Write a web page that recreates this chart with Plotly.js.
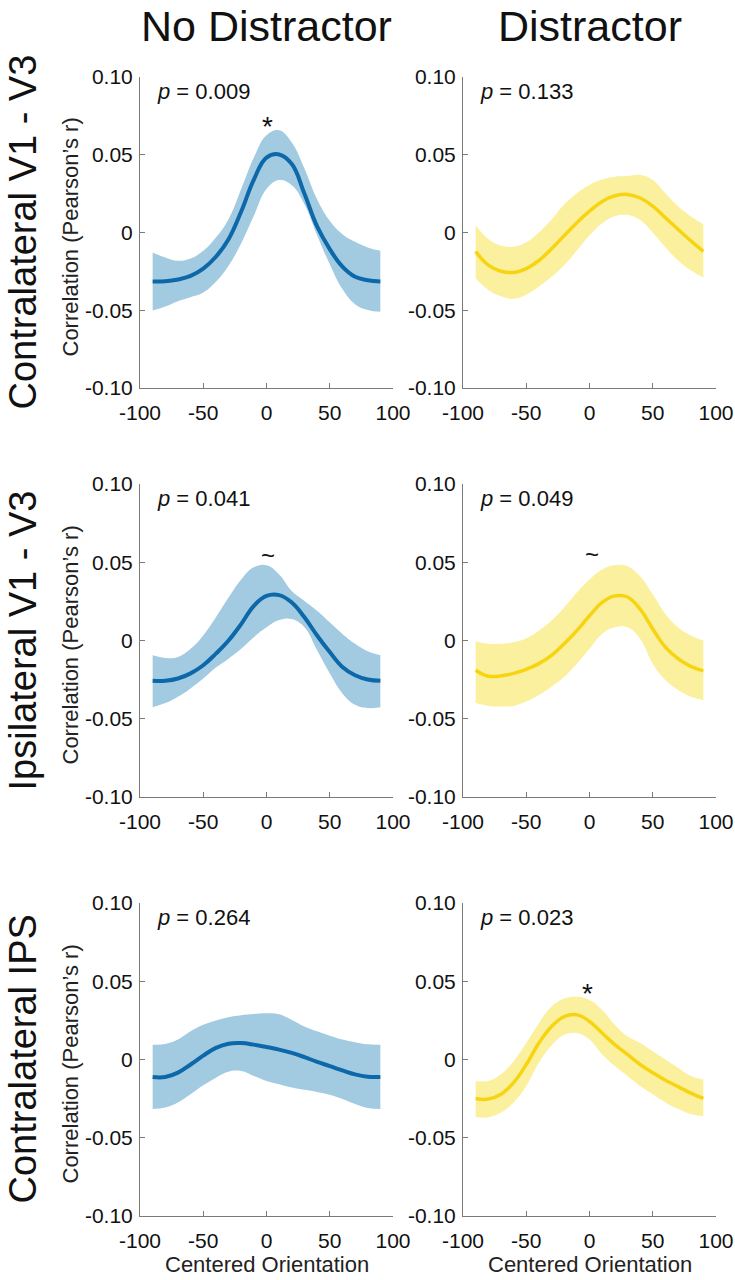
<!DOCTYPE html>
<html>
<head>
<meta charset="utf-8">
<script src="https://cdn.plot.ly/plotly-3.0.1.min.js"></script>
<style>html,body{margin:0;padding:0;background:#fff;}#chart{width:735px;height:1280px;}</style>
</head>
<body>
<div id="chart"></div>
<script>
// ---------- data ----------
const orientation = [-90,-80,-70,-60,-50,-40,-30,-20,-10,0,10,20,30,40,50,60,70,80,90];

const xTickVals = [-100,-50,0,50,100];
const xTickText = ['-100','-50','0','50','100'];
const yTickVals = [-0.1,-0.05,0,0.05,0.1];
const yTickText = ['-0.10','-0.05','0','0.05','0.10'];

const columnTitles = ['No Distractor','Distractor'];
const rowTitles = ['Contralateral V1 - V3','Ipsilateral V1 - V3','Contralateral IPS'];
const yAxisTitle = "Correlation (Pearson’s r)";
const xAxisTitle = 'Centered Orientation';

// Row 1: Contralateral V1 - V3
const contraV1V3_noDist_mean  = [-0.0315,-0.0313,-0.0302,-0.0279,-0.0232,-0.0156,-0.0043,0.0135,0.034,0.0482,0.0502,0.044,0.0249,0.0039,-0.0107,-0.022,-0.0285,-0.0307,-0.0315];
const contraV1V3_noDist_upper = [-0.0129,-0.0161,-0.0182,-0.0167,-0.0118,-0.0032,0.0086,0.0279,0.0482,0.0626,0.0658,0.0579,0.0412,0.0214,0.0075,-0.0011,-0.006,-0.0096,-0.0118];
const contraV1V3_noDist_lower = [-0.0502,-0.0476,-0.0442,-0.0416,-0.0386,-0.0317,-0.0214,-0.0069,0.0107,0.0279,0.0337,0.0304,0.0182,-0.0017,-0.0204,-0.0364,-0.0461,-0.0499,-0.051];

const contraV1V3_dist_mean  = [-0.0122,-0.021,-0.0249,-0.0257,-0.0232,-0.018,-0.0105,-0.002,0.0063,0.0137,0.020,0.0236,0.0245,0.0222,0.0169,0.0095,0.002,-0.0053,-0.0122];
const contraV1V3_dist_upper = [0.0046,-0.0042,-0.0084,-0.0091,-0.0063,0.0,0.0084,0.018,0.0253,0.0306,0.0342,0.0359,0.0363,0.037,0.0338,0.0253,0.0169,0.0105,0.0053];
const contraV1V3_dist_lower = [-0.0295,-0.037,-0.041,-0.0426,-0.040,-0.0348,-0.0285,-0.021,-0.0116,-0.002,0.0059,0.0105,0.0112,0.008,0.0,-0.0095,-0.018,-0.0243,-0.029];

// Row 2: Ipsilateral V1 - V3
const ipsiV1V3_noDist_mean  = [-0.0257,-0.0257,-0.0243,-0.021,-0.0158,-0.0084,0.0,0.0105,0.0222,0.0285,0.029,0.0243,0.0148,0.0032,-0.0074,-0.0169,-0.0222,-0.0249,-0.0257];
const ipsiV1V3_noDist_upper = [-0.0095,-0.0112,-0.0105,-0.0053,0.0032,0.0148,0.0274,0.039,0.0468,0.0481,0.0422,0.0316,0.0253,0.019,0.0116,0.0042,-0.0021,-0.0068,-0.0095];
const ipsiV1V3_noDist_lower = [-0.0426,-0.040,-0.0359,-0.0306,-0.0243,-0.0173,-0.0116,-0.0053,0.0021,0.0084,0.0131,0.0137,0.0084,-0.0063,-0.021,-0.0338,-0.0411,-0.0432,-0.0426];

const ipsiV1V3_dist_mean  = [-0.019,-0.0228,-0.0226,-0.021,-0.0184,-0.0148,-0.0095,-0.0021,0.0063,0.0158,0.0243,0.0285,0.0278,0.020,0.0074,-0.0042,-0.0116,-0.0165,-0.0194];
const ipsiV1V3_dist_upper = [-0.0004,-0.0021,-0.0021,-0.0011,0.0015,0.0063,0.0127,0.0211,0.0306,0.039,0.0454,0.0481,0.0475,0.0411,0.0295,0.0169,0.0084,0.0032,0.0];
const ipsiV1V3_dist_lower = [-0.040,-0.0418,-0.0422,-0.0418,-0.039,-0.0348,-0.0295,-0.0232,-0.0148,-0.0053,0.0042,0.0084,0.0084,0.0011,-0.0148,-0.0253,-0.0316,-0.0359,-0.038];

// Row 3: Contralateral IPS
const contraIPS_noDist_mean  = [-0.0112,-0.0112,-0.0084,-0.0032,0.0025,0.0074,0.0101,0.0105,0.0095,0.008,0.0063,0.0042,0.0015,-0.0015,-0.0042,-0.007,-0.0095,-0.011,-0.0112];
const contraIPS_noDist_upper = [0.0095,0.0099,0.0127,0.018,0.0222,0.0249,0.027,0.0283,0.0291,0.0295,0.0289,0.0253,0.0211,0.018,0.0152,0.0127,0.011,0.0097,0.0095];
const contraIPS_noDist_lower = [-0.0316,-0.0306,-0.0274,-0.0222,-0.0165,-0.0116,-0.0078,-0.0074,-0.0105,-0.0137,-0.0158,-0.0179,-0.0194,-0.0207,-0.0226,-0.0253,-0.0285,-0.031,-0.0316];

const contraIPS_dist_mean  = [-0.0249,-0.0253,-0.0222,-0.0148,-0.0032,0.0105,0.0211,0.0274,0.0285,0.0243,0.0169,0.0095,0.0032,-0.0032,-0.0084,-0.0133,-0.0173,-0.0215,-0.0249];
const contraIPS_dist_upper = [-0.0137,-0.0137,-0.0095,-0.0011,0.0105,0.0232,0.0338,0.039,0.0401,0.038,0.0316,0.0222,0.0148,0.0105,0.0053,0.0,-0.0053,-0.0105,-0.0127];
const contraIPS_dist_lower = [-0.0369,-0.0369,-0.0338,-0.0274,-0.0169,-0.0021,0.0089,0.0158,0.0169,0.0127,0.0032,-0.0042,-0.0105,-0.0169,-0.0222,-0.0274,-0.0316,-0.0348,-0.0363];

const pValues = ['0.009','0.133','0.041','0.049','0.264','0.023'];
// significance marks: [panel index, symbol, x, y]
const sigMarks = [[0,'*',1,0.068],[2,'~',1,0.054],[3,'~',2,0.055],[5,'*',-1.5,0.042]];

// ---------- drawing ----------
const FONT = 'Liberation Sans, Arial, Helvetica, sans-serif';
const BLUE = {line:'#0c68a8', band:'#a2cbe2', w:4};
const YELLOW = {line:'#f7d411', band:'#faf09e', w:3.5};

const panels = [
  {mean:contraV1V3_noDist_mean, up:contraV1V3_noDist_upper, lo:contraV1V3_noDist_lower, c:BLUE},
  {mean:contraV1V3_dist_mean,   up:contraV1V3_dist_upper,   lo:contraV1V3_dist_lower,   c:YELLOW},
  {mean:ipsiV1V3_noDist_mean,   up:ipsiV1V3_noDist_upper,   lo:ipsiV1V3_noDist_lower,   c:BLUE},
  {mean:ipsiV1V3_dist_mean,     up:ipsiV1V3_dist_upper,     lo:ipsiV1V3_dist_lower,     c:YELLOW},
  {mean:contraIPS_noDist_mean,  up:contraIPS_noDist_upper,  lo:contraIPS_noDist_lower,  c:BLUE},
  {mean:contraIPS_dist_mean,    up:contraIPS_dist_upper,    lo:contraIPS_dist_lower,    c:YELLOW}
];

const W = 735, H = 1280;
const colPx = [[140,393],[463,716]];
const rowPx = [[77,388],[484,797],[903,1216]];

const traces = [];
const layout = {
  width: W, height: H,
  margin: {l:0, r:0, t:0, b:0},
  paper_bgcolor: '#fff', plot_bgcolor: 'rgba(0,0,0,0)',
  showlegend: false,
  font: {family: FONT, color: '#111'},
  annotations: []
};

panels.forEach((p, i) => {
  const n = i + 1;
  const xa = n === 1 ? 'x' : 'x' + n;
  const ya = n === 1 ? 'y' : 'y' + n;
  const row = Math.floor(i / 2), col = i % 2;
  traces.push({x: orientation, y: p.lo, xaxis: xa, yaxis: ya, type: 'scatter', mode: 'lines',
    line: {width: 0, shape: 'spline', smoothing: 1.2, color: p.c.band}, hoverinfo: 'skip'});
  traces.push({x: orientation, y: p.up, xaxis: xa, yaxis: ya, type: 'scatter', mode: 'lines',
    fill: 'tonexty', fillcolor: p.c.band, line: {width: 0, shape: 'spline', smoothing: 1.2, color: p.c.band}, hoverinfo: 'skip'});
  traces.push({x: orientation, y: p.mean, xaxis: xa, yaxis: ya, type: 'scatter', mode: 'lines',
    line: {width: p.c.w, shape: 'spline', smoothing: 1.2, color: p.c.line}});

  const common = {showline: true, linecolor: '#7a7a7a', linewidth: 1, ticks: 'inside', ticklen: 5,
    tickcolor: '#7a7a7a', tickwidth: 1, showgrid: false, zeroline: false, fixedrange: true,
    tickfont: {family: FONT, size: 21, color: '#111'}};
  layout['xaxis' + (n === 1 ? '' : n)] = Object.assign({}, common, {
    domain: [colPx[col][0] / W, colPx[col][1] / W], anchor: ya,
    range: [-100, 100], tickmode: 'array', tickvals: xTickVals, ticktext: xTickText, ticklabelstandoff: 6});
  layout['yaxis' + (n === 1 ? '' : n)] = Object.assign({}, common, {
    domain: [1 - rowPx[row][1] / H, 1 - rowPx[row][0] / H], anchor: xa,
    range: [-0.1, 0.1], tickmode: 'array', tickvals: yTickVals, ticktext: yTickText, ticklabelstandoff: 2});

  layout.annotations.push({xref: xa, yref: ya, x: -88, y: 0.0905, xanchor: 'left', yanchor: 'middle',
    text: '<i>p</i> = ' + pValues[i], showarrow: false, font: {family: FONT, size: 22, color: '#111'}});

  if (col === 0) {
    layout.annotations.push({xref: 'paper', yref: 'paper', x: 70 / W,
      y: 1 - ((rowPx[row][0] + rowPx[row][1]) / 2 + 5) / H, xanchor: 'center', yanchor: 'middle',
      text: yAxisTitle, textangle: -90, showarrow: false, font: {family: FONT, size: 22, color: '#222'}});
    layout.annotations.push({xref: 'paper', yref: 'paper', x: 22 / W,
      y: 1 - ((rowPx[row][0] + rowPx[row][1]) / 2) / H, xanchor: 'center', yanchor: 'middle',
      text: rowTitles[row], textangle: -90, showarrow: false, font: {family: FONT, size: 38, color: '#111'}});
  }
  if (row === 2) {
    layout.annotations.push({xref: 'paper', yref: 'paper', x: (colPx[col][0] + colPx[col][1]) / 2 / W,
      y: 1 - 1264 / H, xanchor: 'center', yanchor: 'middle', text: xAxisTitle, showarrow: false,
      font: {family: FONT, size: 22, color: '#222'}});
  }
});

sigMarks.forEach(m => {
  const n = m[0] + 1;
  layout.annotations.push({xref: n === 1 ? 'x' : 'x' + n, yref: n === 1 ? 'y' : 'y' + n,
    x: m[2], y: m[3], xanchor: 'center', yanchor: 'middle', text: m[1], showarrow: false,
    font: {family: FONT, size: m[1] === '*' ? 28 : 24, color: '#111'}});
});

columnTitles.forEach((t, c) => {
  layout.annotations.push({xref: 'paper', yref: 'paper', x: (c === 0 ? 266 : 590) / W, y: 1,
    xanchor: 'center', yanchor: 'top', text: t, showarrow: false,
    font: {family: FONT, size: 43, color: '#111'}});
});

Plotly.newPlot('chart', traces, layout, {displayModeBar: false, staticPlot: true});
</script>
</body>
</html>
